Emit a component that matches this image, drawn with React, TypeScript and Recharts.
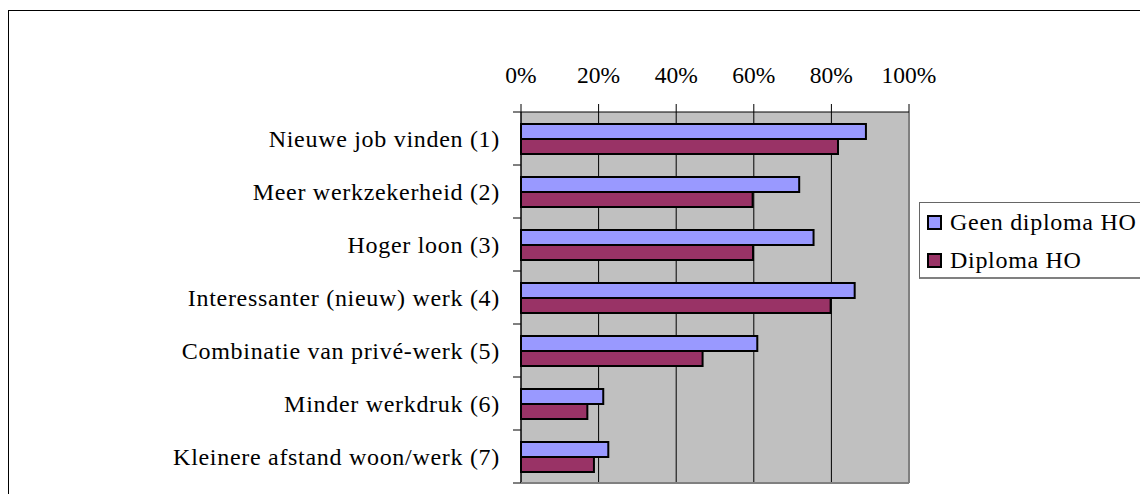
import { BarChart, Bar, XAxis, YAxis, CartesianGrid, Legend, ReferenceLine } from 'recharts'

const categories = [
  'Nieuwe job vinden (1)',
  'Meer werkzekerheid (2)',
  'Hoger loon (3)',
  'Interessanter (nieuw) werk (4)',
  'Combinatie van privé-werk (5)',
  'Minder werkdruk (6)',
  'Kleinere afstand woon/werk (7)',
]
const geenDiplomaHO = [88.9, 71.7, 75.4, 86.0, 60.9, 21.2, 22.5]
const diplomaHO = [81.7, 59.7, 59.8, 79.8, 46.8, 17.1, 18.8]
const xTicks = [0, 20, 40, 60, 80, 100]
const seriesNames = ['Geen diploma HO', 'Diploma HO']
const seriesColors = ['#9999ff', '#993366']

const W = 1140
const H = 486
const PLOT_LEFT = 513
const PLOT_TOP = 104
const PLOT_W = 388
const PLOT_H = 371
const X_AXIS_H = 40
const FONT = "'Liberation Serif', serif"

const data = categories.map((name, i) => ({
  name,
  geen: geenDiplomaHO[i],
  diploma: diplomaHO[i],
}))

// category ticks sit on the band edges, labels in the middle
const CategoryTick = (props: any) => {
  const { x, y, payload, index } = props
  const band = PLOT_H / categories.length
  const last = index === categories.length - 1
  return (
    <g>
      <line x1={x - 8} x2={x} y1={y - band / 2} y2={y - band / 2} stroke="#000" />
      {last && (
        <>
          <line x1={x} x2={x + PLOT_W} y1={y + band / 2} y2={y + band / 2} stroke="#808080" strokeWidth={2} />
          <line x1={x - 8} x2={x} y1={y + band / 2} y2={y + band / 2} stroke="#000" />
        </>
      )}
      <text
        x={x - 21}
        y={y}
        dy="0.35em"
        textAnchor="end"
        fill="#000"
        fontSize={24}
        fontFamily={FONT}
        letterSpacing={0.7}
      >
        {payload.value}
      </text>
    </g>
  )
}

const LegendBox = () => (
  <div
    style={{
      boxSizing: 'border-box',
      width: 240,
      height: 77,
      border: '1px solid #666',
      borderBottom: '2px solid #808080',
      background: '#fff',
      fontFamily: FONT,
      fontSize: 24,
      letterSpacing: 0.7,
      color: '#000',
    }}
  >
    {seriesNames.map((name, i) => (
      <div key={name} style={{ display: 'flex', alignItems: 'center', height: 38, paddingLeft: 7 }}>
        <span
          style={{
            display: 'inline-block',
            boxSizing: 'border-box',
            width: 15,
            height: 15,
            border: '2px solid #000',
            background: seriesColors[i],
            marginRight: 8,
          }}
        />
        <span style={{ lineHeight: 1 }}>{name}</span>
      </div>
    ))}
  </div>
)

const App = () => {
  return (
    <div style={{ position: 'relative', width: W, height: H, overflow: 'hidden' }}>
      <div
        style={{
          position: 'absolute',
          left: 0,
          top: 2,
          width: 1200,
          height: 600,
          border: '1px solid #000',
          boxSizing: 'border-box',
        }}
      />
      <BarChart
        width={W}
        height={H}
        data={data}
        layout="vertical"
        barSize={15}
        barGap={0}
        margin={{
          top: PLOT_TOP - X_AXIS_H,
          right: W - PLOT_LEFT - PLOT_W,
          bottom: H - PLOT_TOP - PLOT_H,
          left: 0,
        }}
      >
        <CartesianGrid horizontal={false} stroke="#000" fill="#c0c0c0" fillOpacity={1} />
        <XAxis
          type="number"
          orientation="top"
          domain={[0, 100]}
          ticks={xTicks}
          height={X_AXIS_H}
          tickSize={8}
          tickMargin={21}
          tickFormatter={(v: number) => `${v}%`}
          axisLine={{ stroke: '#000' }}
          tickLine={{ stroke: '#000' }}
          tick={{ fill: '#000', fontSize: 23.5, fontFamily: FONT }}
        />
        <YAxis
          type="category"
          dataKey="name"
          width={PLOT_LEFT}
          tickLine={false}
          tickSize={0}
          tickMargin={0}
          interval={0}
          axisLine={{ stroke: '#000' }}
          tick={<CategoryTick />}
        />
        <ReferenceLine x={100} stroke="#808080" strokeWidth={2} />
        <Bar dataKey="geen" name={seriesNames[0]} fill={seriesColors[0]} stroke="#000" strokeWidth={2} isAnimationActive={false} />
        <Bar dataKey="diploma" name={seriesNames[1]} fill={seriesColors[1]} stroke="#000" strokeWidth={2} isAnimationActive={false} />
        <Legend
          layout="horizontal"
          verticalAlign="middle"
          align="center"
          wrapperStyle={{ left: 911, top: 194, width: 240, height: 77 }}
          content={<LegendBox />}
        />
      </BarChart>
    </div>
  )
}

export default App
